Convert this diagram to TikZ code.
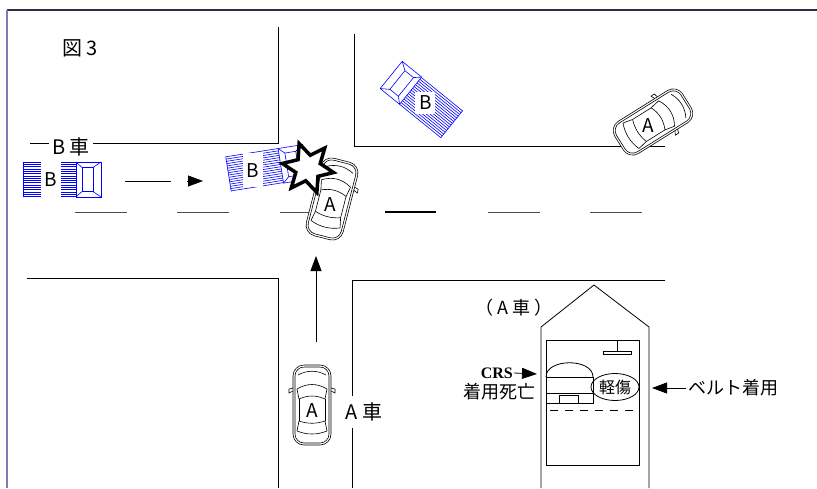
\documentclass[tikz,border=0pt]{standalone}
\usepackage{fontspec}
\newfontfamily\jpfont{Noto Sans CJK JP}
\newfontfamily\crsfont{Liberation Serif}
\usetikzlibrary{arrows.meta,shapes.geometric}
\definecolor{truckblue}{RGB}{0,0,255}
\definecolor{topframe}{RGB}{45,45,75}
\definecolor{sideframe}{RGB}{125,125,180}
\tikzset{>={Triangle[length=15pt,width=11pt]}}
\tikzset{
  road/.style={line width=0.8pt},
  lane/.style={line width=0.9pt,black!70},
  txt/.style={font=\jpfont\fontsize{18}{20}\selectfont,inner sep=2pt},
  bigtxt/.style={font=\jpfont\fontsize{20}{22}\selectfont,inner sep=2pt},
  carlabel/.style={font=\jpfont\fontsize{19}{21}\selectfont,inner sep=0pt},
  trucklabel/.style={font=\jpfont\fontsize{19}{21}\selectfont,fill=white,
    text=black,inner sep=0pt,minimum width=20pt},
  truckline/.style={truckblue,line width=0.6pt},
  carline/.style={line width=0.6pt}
}
\newcommand*{\sedan}[3]
  {\begin{scope}[shift={(#1)},rotate=#2,carline]
   \draw[fill=white,rounded corners=11pt] (-40,-19) rectangle (40,19);
   \draw[rounded corners=9pt] (-38,-17) rectangle (38,17);
   \draw (30,-14) .. controls (35,-5) and (35,5) .. (30,14);
   \draw (16,-15) .. controls (22,-5) and (22,5) .. (16,15);
   \draw (6,-13) .. controls (10,-4) and (10,4) .. (6,13);
   \draw (6,-13) -- (16,-15) (6,13) -- (16,15);
   \draw (6,-13) -- (-16,-13) (6,13) -- (-16,13);
   \draw (-16,-13) .. controls (-19,-4) and (-19,4) .. (-16,13);
   \draw (-26,-15) .. controls (-30,-5) and (-30,5) .. (-26,15);
   \draw (-16,-13) -- (-26,-15) (-16,13) -- (-26,15);
   \draw (14,-19) -- (12,-23) -- (16,-23) -- (17,-19);
   \draw (14,19) -- (12,23) -- (16,23) -- (17,19);
   \node[carlabel] (#3) at (-6,0) {A};
   \end{scope}}
\newcommand*{\truck}[5]
  {\begin{scope}[shift={(#1)},rotate=#2,truckline]
   \foreach \y in {-17.5,-15.2,...,17.6}
     \draw (-39,\y) -- (14,\y);
   \draw (-39,-17.5) -- (-39,17.5);
   \draw (14,-17.5) rectangle (39,17.5);
   \draw (20,-12) rectangle (31,12);
   \draw (20,-12) -- (14,-17.5) (20,12) -- (14,17.5)
         (31,-12) -- (39,-17.5) (31,12) -- (39,17.5);
   \node[trucklabel,minimum height=#5] (#3) at (#4,0) {B};
   \end{scope}}

\begin{document}
\begin{tikzpicture}[x=1pt,y=-1pt]
\useasboundingbox (0,0) rectangle (817,488);
\draw[topframe,line width=1.6pt] (7,10) -- (817,10);
\draw[sideframe,line width=1.2pt] (7,10) -- (7,488);

\draw[road] (278,27) -- (278,143) -- (30,143);
\draw[road] (354,34) -- (354,146) -- (665,146);
\draw[road] (27,278) -- (278,278) -- (278,488);
\draw[road] (665,280) -- (352,280) -- (352,488);
\foreach \a in {75,177,280,488,590}
  \draw[lane] (\a,212) -- ++(52,0);
\draw[lane,black,line width=1.3pt] (385,212) -- ++(51,0);

\node[bigtxt] (fig) at (80,48) {図 3};
\node[bigtxt,fill=white,inner sep=3pt] (bcar) at (71,147) {B 車};
\node[bigtxt,fill=white,minimum height=32pt] (acar) at (364,412) {A 車};

\truck{62,179.5}{0}{bStart}{-11}{36pt}
\coordinate (bFrom) at (125,181);
\coordinate (bMid) at (171,181);
\coordinate (bHead) at (187,181);
\coordinate (bTo) at (203,181);
\draw[road] (bFrom) -- (bMid);
\draw[->] (bHead) -- (bTo);

\sedan{312,405}{90}{aStart}
\coordinate (aFrom) at (316,342);
\coordinate (aTo) at (316,256);
\draw[road,->] (aFrom) -- (aTo);

\sedan{332,199}{75.6}{aCrash}
\truck{267,168}{9}{bCrash}{-14}{34pt}
\node[star,star points=6,star point ratio=2,minimum size=52pt,draw,
  line width=3.5pt,fill=white,rotate=20] (crash) at (308,168) {};
\truck{421.5,99.5}{141}{bEnd}{-5}{22pt}
\sedan{653,122}{32}{aEnd}

\draw[road] (541,488) -- (541,327) -- (594,285) -- (649,327) -- (649,488);
\draw[road] (546,340) rectangle (639,465);
\draw[road] (617,340) -- (617,351);
\draw[road] (603,351) rectangle (631,354);
\draw[road] (546,377) .. controls (546,358) and (593,358) .. (593,377);
\draw[road] (546,377) rectangle (593,403);
\draw[road] (546,393) -- (593,393);
\draw[road] (559,395) rectangle (578,403);
\draw[road,dash pattern=on 8pt off 7pt] (550,410) -- (636,410);
\node[draw,ellipse,minimum width=48pt,minimum height=27pt,inner sep=0pt,
  road,font=\jpfont\fontsize{16}{18}\selectfont] (hurt) at (615,387) {軽傷};
\node[txt] (acarIn) at (514,308) {（ A 車 ）};
\node[font=\crsfont\bfseries\fontsize{16}{18}\selectfont,inner sep=1pt,
  anchor=east] (crs) at (514,373) {CRS};
\coordinate (crsTip) at (537,374);
\draw[road,->] (crs.east) -- (crsTip);
\node[txt] (dead) at (499,392) {着用死亡};
\node[txt,anchor=west] (belt) at (686,388) {ベルト着用};
\coordinate (beltTip) at (652,388);
\draw[road,->] (belt.west) -- (beltTip);
\end{tikzpicture}
\end{document}
